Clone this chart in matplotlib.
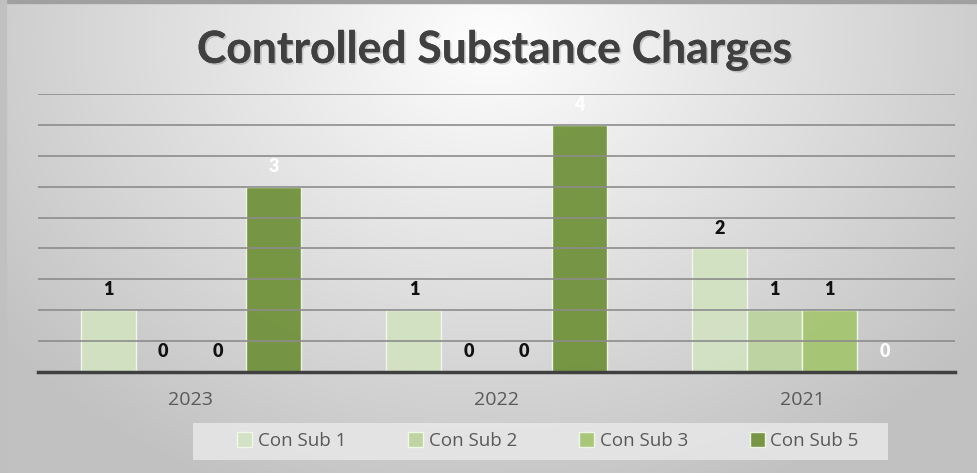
import numpy as np
import matplotlib
matplotlib.use("Agg")
import matplotlib.pyplot as plt
from matplotlib.patches import Rectangle
import matplotlib.patheffects as pe

categories = ["2023", "2022", "2021"]
series_names = ["Con Sub 1", "Con Sub 2", "Con Sub 3", "Con Sub 5"]
con_sub_1 = [1, 1, 2]
con_sub_2 = [0, 0, 1]
con_sub_3 = [0, 0, 1]
con_sub_5 = [3, 4, 0]
series_values = [con_sub_1, con_sub_2, con_sub_3, con_sub_5]
colors = ["#d3e2c2", "#bcd49e", "#a5c66f", "#6f9139"]
label_colors = ["#111111", "#111111", "#111111", "#ffffff"]

fig = plt.figure(figsize=(9.78, 4.73), dpi=100)

# background radial gradient
bg = fig.add_axes([0, 0, 1, 1])
bg.set_axis_off()
yy, xx = np.mgrid[0:473, 0:978]
cx, cy = 489, 40
d = np.sqrt(((xx - cx) / 650.0) ** 2 + ((yy - cy) / 520.0) ** 2)
val = np.clip(0.995 - 0.25 * d, 0.76, 1.0)
img = np.dstack([val, val, val])
bg.imshow(img, extent=[0, 1, 0, 1], aspect="auto", transform=bg.transAxes)
bg.add_patch(Rectangle((0, 0.994), 1, 0.006, transform=bg.transAxes, color="#a0a0a0"))
bg.add_patch(Rectangle((0, 0), 0.006, 1, transform=bg.transAxes, color="#c0c0c0"))

ax = fig.add_axes([38 / 978, (473 - 372) / 473, (955 - 38) / 978, (372 - 94) / 473])
ax.patch.set_alpha(0)
x = np.arange(len(categories))
w = 0.18
offsets = (np.arange(4) - 1.5) * w
for i, (vals, c) in enumerate(zip(series_values, colors)):
    ax.bar(x + offsets[i], vals, width=w, color=c, edgecolor="#f4f8ee",
           linewidth=1.0, zorder=2, label=series_names[i], alpha=0.93)
    for j, v in enumerate(vals):
        ax.text(x[j] + offsets[i], v + 0.33, str(v), ha="center", va="center",
                fontsize=13, fontweight="heavy", color=label_colors[i], zorder=4,
                family="Lato")

ax.set_xlim(-0.5, 2.5)
ax.set_ylim(0, 4.5)
ax.set_yticks(np.arange(0.5, 4.51, 0.5))
ax.yaxis.grid(True, color="#8c8c8c", linewidth=1.4, alpha=0.85, zorder=3)
ax.set_axisbelow(False)
ax.tick_params(axis="y", left=False, labelleft=False)
ax.tick_params(axis="x", bottom=False, pad=10, labelsize=14, labelcolor="#595959")
ax.set_xticks(x)
ax.set_xticklabels(categories, family="Open Sans")
for s in ["top", "right", "left"]:
    ax.spines[s].set_visible(False)
ax.spines["bottom"].set_color("#404040")
ax.spines["bottom"].set_linewidth(2.5)
ax.spines["bottom"].set_zorder(5)

fig.text(0.506, 0.894, "Controlled Substance Charges", ha="center", va="center",
         fontsize=32, fontweight="bold", color="#404040", family="Lato",
         path_effects=[pe.withSimplePatchShadow(offset=(1.2, -1.2), alpha=0.18), pe.Normal()])

# legend box
fig.patches.append(Rectangle((193 / 978, (473 - 460) / 473), (888 - 193) / 978, 37 / 473,
                             transform=fig.transFigure, facecolor="#e8e8e8",
                             edgecolor="none", alpha=0.85, zorder=1))
leg = fig.legend(loc="center", bbox_to_anchor=(548 / 978, (473 - 441) / 473), ncol=4,
                 frameon=False, handlelength=0.8, handleheight=0.8,
                 handletextpad=0.3, columnspacing=3.3, prop={"family": "Open Sans", "size": 13.5})
for t in leg.get_texts():
    t.set_color("#595959")

fig.savefig("out.png", dpi=100)
